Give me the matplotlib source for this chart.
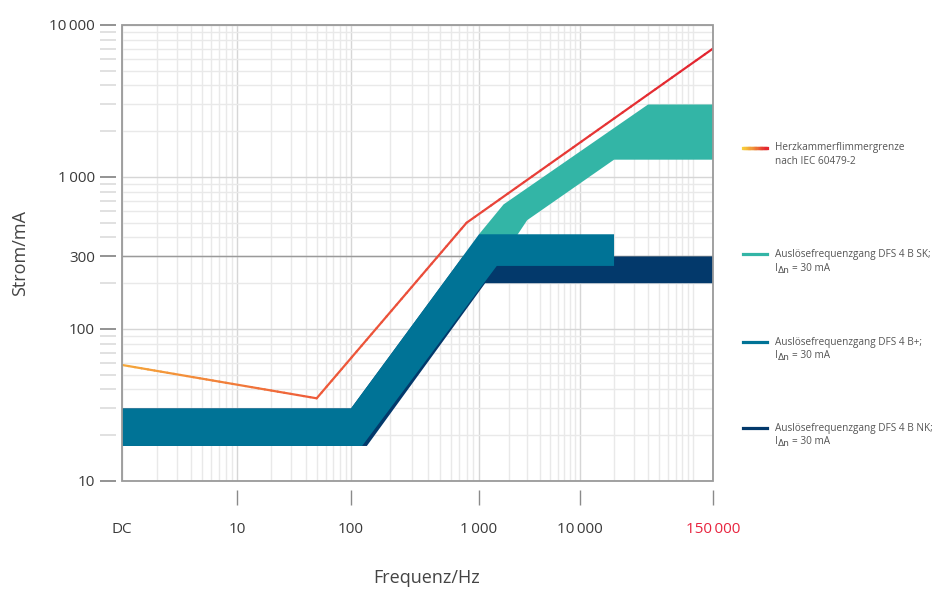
import matplotlib
matplotlib.use('Agg')
import matplotlib.pyplot as plt
from matplotlib.collections import LineCollection
from matplotlib.patches import Rectangle
from matplotlib.ticker import NullFormatter
from matplotlib.colors import to_rgb
import numpy as np

plt.rcParams['font.family'] = ['Open Sans', 'DejaVu Sans']

# --- data (frequency in Hz, DC drawn as 1 Hz; current in mA) ---
hz_freq = [1, 50, 800, 150000]
hz_current = [58, 35, 500, 7000]

sk_freq = [1000, 1750, 40000, 150000, 150000, 20000, 3000, 1500]
sk_current = [420, 660, 3000, 3000, 1300, 1300, 520, 260]

nk_freq = [1, 100, 750, 150000, 150000, 1150, 133, 1]
nk_current = [30, 30, 300, 300, 200, 200, 17, 17]

bp_freq = [1, 100, 1000, 20000, 20000, 1500, 122, 1]
bp_current = [30, 30, 420, 420, 260, 260, 17, 17]

x_ticks = [1, 10, 100, 1000, 10000, 150000]
x_labels = ['DC', '10', '100', '1\u2009000', '10\u2009000', '150\u2009000']
y_ticks = [10, 100, 300, 1000, 10000]
y_labels = ['10', '100', '300', '1\u2009000', '10\u2009000']

legend_titles = ['Herzkammerflimmergrenze', 'Auslösefrequenzgang DFS 4 B SK;',
                 'Auslösefrequenzgang DFS 4 B+;', 'Auslösefrequenzgang DFS 4 B NK;']
legend_second = ['nach IEC 60479-2', None, None, None]
rated_current = '= 30 mA'

c_sk = '#33b5a6'
c_bp = '#007396'
c_nk = '#03396b'
c_red_stops = ['#f5a83a', '#ee5b3a', '#e9483a', '#e3232f']
grey_txt = '#3a3a3a'

# the frequency axis is drawn with uneven decade widths
x_logs = [0, 1, 2, 3, 4, np.log10(150000)]
x_pos = [0, 115, 229, 357, 458, 591]


def fwd(f):
    f = np.clip(np.asarray(f, dtype=float), 1e-6, None)
    return np.interp(np.log10(f), x_logs, x_pos)


def inv(p):
    return 10 ** np.interp(np.asarray(p, dtype=float), x_pos, x_logs)


fig = plt.figure(figsize=(9.33, 5.89), dpi=100)
ax = fig.add_axes([122 / 933, 1 - 481 / 589, 591 / 933, 456 / 589])
ax.set_xscale('function', functions=(fwd, inv))
ax.set_yscale('log')
ax.set_xlim(1, 150000)
ax.set_ylim(10, 10000)

# ticks
x_minor = [k * 10 ** e for e in range(0, 5) for k in range(2, 10)] + [100000]
y_minor = [k * 10 ** e for e in range(1, 4) for k in range(2, 10) if k * 10 ** e != 300]
ax.set_xticks(x_ticks, x_labels)
ax.set_xticks(x_minor, minor=True)
ax.set_yticks(y_ticks, y_labels)
ax.set_yticks(y_minor, minor=True)
ax.xaxis.set_minor_formatter(NullFormatter())
ax.yaxis.set_minor_formatter(NullFormatter())

for s in ax.spines.values():
    s.set_visible(False)
ax.spines['left'].set_position(('outward', 4.5))
ax.spines['bottom'].set_position(('outward', 6.5))

ax.tick_params(axis='y', which='major', length=11.5, width=1.3, color='#8a8a8a',
               pad=3.5, labelsize=11, labelcolor=grey_txt)
ax.tick_params(axis='y', which='minor', length=11.5, width=1.3, color='#dedede')
ax.tick_params(axis='x', which='major', length=11, width=1.0, color='#8a8a8a',
               pad=12, labelsize=11, labelcolor=grey_txt)
ax.tick_params(axis='x', which='minor', length=0)
ax.xaxis.get_major_ticks()[0].tick1line.set_visible(False)
ax.get_xticklabels()[-1].set_color('#e8243f')
# y labels sit a little above their tick
for lab in ax.get_yticklabels():
    lab.set_va('center_baseline')

ax.grid(True, which='major', color='#d6d6d6', lw=1.0, zorder=0)
ax.grid(True, which='minor', color='#e9e9e9', lw=1.0, zorder=0)
ax.set_axisbelow(True)
ax.axhline(300, color='#9a9a9a', lw=1.0, zorder=1)

ax.add_patch(Rectangle((0, 0), 1, 1, transform=ax.transAxes, fill=False,
                       edgecolor='#9a9a9a', lw=1.3, zorder=6, clip_on=False))

# bands
ax.fill(sk_freq, sk_current, color=c_sk, lw=0, zorder=2)
ax.fill(nk_freq, nk_current, color=c_nk, lw=0, zorder=3)
ax.fill(bp_freq, bp_current, color=c_bp, lw=0, zorder=4)

# fibrillation limit with a colour gradient along the line
pts = ax.transAxes.inverted().transform(
    ax.transData.transform(np.column_stack([hz_freq, hz_current])))
stops = np.array([to_rgb(c) for c in c_red_stops])
segs, cols = [], []
for i in range(len(pts) - 1):
    t = np.linspace(0, 1, 31)
    p = pts[i] + (pts[i + 1] - pts[i]) * t[:, None]
    for j in range(30):
        segs.append([p[j], p[j + 1]])
        cols.append(stops[i] + (stops[i + 1] - stops[i]) * (t[j] + t[j + 1]) / 2)
ax.add_collection(LineCollection(segs, colors=cols, lw=1.6, transform=ax.transAxes,
                                 zorder=5, capstyle='round'))

ax.set_ylabel('Strom/mA', fontsize=13, color='#444444')
ax.yaxis.set_label_coords(-0.158, 0.5)
ax.set_xlabel('Frequenz/Hz', fontsize=13, color='#444444')
ax.xaxis.set_label_coords(0.516, -0.192)

# legend drawn beside the plot
leg_y = [148, 254, 342, 428]
hx0, hx1 = 743 / 933, 767 / 933
tx = 775 / 933
fs = 7.2
txt_col = '#555555'
for k, title in enumerate(legend_titles):
    yf = 1 - leg_y[k] / 589
    y2 = yf - 14 / 589
    if k == 0:
        g = np.linspace(0, 1, 21)
        gx = hx0 + (hx1 - hx0) * g
        c0, c1, c2 = np.array(to_rgb('#f9d63a')), np.array(to_rgb('#f08a3a')), np.array(to_rgb('#e3232f'))
        hs, hc = [], []
        for j in range(20):
            m = (g[j] + g[j + 1]) / 2
            c = c0 + (c1 - c0) * m * 2 if m < 0.5 else c1 + (c2 - c1) * (m - 0.5) * 2
            hs.append([(gx[j], yf), (gx[j + 1], yf)])
            hc.append(c)
        fig.add_artist(LineCollection(hs, colors=hc, lw=2.3, capstyle='projecting',
                                      transform=fig.transFigure))
    else:
        col = [c_sk, c_bp, c_nk][k - 1]
        fig.add_artist(plt.Line2D([hx0, hx1], [yf, yf], color=col, lw=2.3,
                                  transform=fig.transFigure))
    fig.text(tx, yf, title, fontsize=fs, color=txt_col, va='center', ha='left')
    if legend_second[k]:
        fig.text(tx, y2, legend_second[k], fontsize=fs, color=txt_col, va='center', ha='left')
    else:
        fig.text(tx, y2, 'I', fontsize=fs, color=txt_col, va='center', ha='left')
        fig.text(tx + 3 / 933, y2 - 2 / 589, '\u0394n', fontsize=fs * 0.9, color=txt_col,
                 va='center', ha='left', family=['DejaVu Sans'])
        fig.text(tx + 17 / 933, y2, rated_current, fontsize=fs, color=txt_col,
                 va='center', ha='left')

fig.savefig('out.png', dpi=100)
